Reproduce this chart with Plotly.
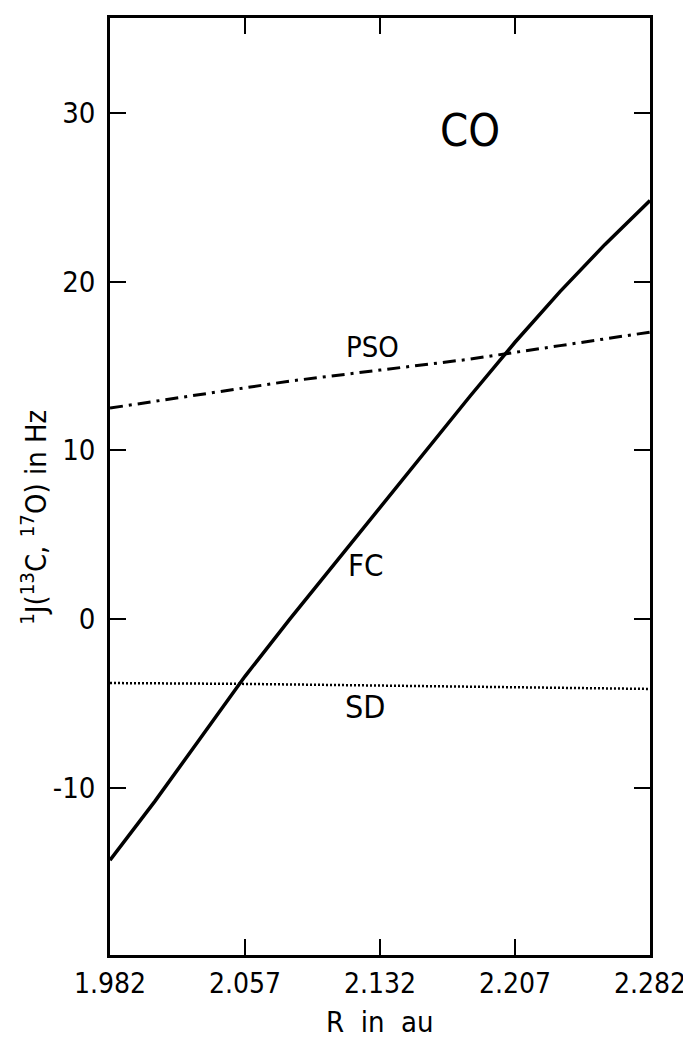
import plotly.graph_objects as go

# Data
R = [1.982, 2.007, 2.032, 2.057, 2.082, 2.107, 2.132, 2.157, 2.182, 2.207, 2.232, 2.257, 2.282]
FC = [-14.3, -10.8, -7.1, -3.4, 0.0, 3.3, 6.6, 9.9, 13.2, 16.4, 19.4, 22.2, 24.8]

R_pso = [1.982, 2.032, 2.082, 2.132, 2.182, 2.232, 2.282]
PSO = [12.5, 13.3, 14.1, 14.75, 15.4, 16.2, 17.0]

R_sd = [1.982, 2.057, 2.132, 2.207, 2.282]
SD = [-3.8, -3.85, -3.95, -4.05, -4.15]

x_ticks = [1.982, 2.057, 2.132, 2.207, 2.282]
x_tick_labels = ["1.982", "2.057", "2.132", "2.207", "2.282"]
y_ticks = [-10, 0, 10, 20, 30]
y_tick_labels = ["-10", "0", "10", "20", "30"]

FONT = "Liberation Sans Narrow, DejaVu Sans Condensed, Liberation Sans, Arial, sans-serif"

fig = go.Figure()
fig.add_trace(go.Scatter(x=R, y=FC, mode="lines", line=dict(color="black", width=3.5),
                         showlegend=False, hoverinfo="skip"))
fig.add_trace(go.Scatter(x=R_pso, y=PSO, mode="lines",
                         line=dict(color="black", width=3, dash="13px,6px,3px,6px"),
                         showlegend=False, hoverinfo="skip"))
fig.add_trace(go.Scatter(x=R_sd, y=SD, mode="lines",
                         line=dict(color="black", width=2.5, dash="2px,2px"),
                         showlegend=False, hoverinfo="skip"))

# Labels
fig.add_annotation(x=2.182, y=28.95, text="CO", showarrow=False,
                   font=dict(family=FONT, size=45, color="black"))
fig.add_annotation(x=2.1276, y=16.12, text="PSO", showarrow=False,
                   font=dict(family=FONT, size=29, color="black"))
fig.add_annotation(x=2.1242, y=3.2, text="FC", showarrow=False,
                   font=dict(family=FONT, size=31, color="black"))
fig.add_annotation(x=2.1237, y=-5.2, text="SD", showarrow=False,
                   font=dict(family=FONT, size=32, color="black"))

# Axis titles as annotations (positions as in the reference)
fig.add_annotation(xref="paper", yref="paper", x=-0.14, y=0.467,
                   xanchor="center", yanchor="middle",
                   text="<sup>1</sup>J(<sup>13</sup>C, <sup>17</sup>O) in Hz",
                   textangle=-90, showarrow=False,
                   font=dict(family=FONT, size=29, color="black"))
fig.add_annotation(xref="paper", yref="paper", x=0.5, y=-0.0715,
                   xanchor="center", yanchor="middle",
                   text="R&nbsp; in&nbsp; au", showarrow=False,
                   font=dict(family=FONT, size=29, color="black"))

axis_common = dict(showgrid=False, zeroline=False, showline=True, linecolor="black",
                   linewidth=2.5, mirror="ticks", ticks="inside", tickcolor="black",
                   tickwidth=2, ticklen=16, automargin=False)

fig.update_xaxes(range=[1.982, 2.282], tickvals=x_ticks, ticktext=x_tick_labels,
                 ticklabelstandoff=2,
                 tickfont=dict(family=FONT, size=28, color="black"),
                 **axis_common)
fig.update_yaxes(range=[-19.92, 35.62], tickvals=y_ticks, ticktext=y_tick_labels,
                 ticklabelstandoff=6,
                 tickfont=dict(family=FONT, size=29, color="black"),
                 **axis_common)

# The page body adds an 8px margin, so the figure is 8px smaller and shifted accordingly
fig.update_layout(width=683, height=1032, margin=dict(l=102, r=41, t=10, b=85),
                  plot_bgcolor="white", paper_bgcolor="white")

fig.write_html("out.html")
